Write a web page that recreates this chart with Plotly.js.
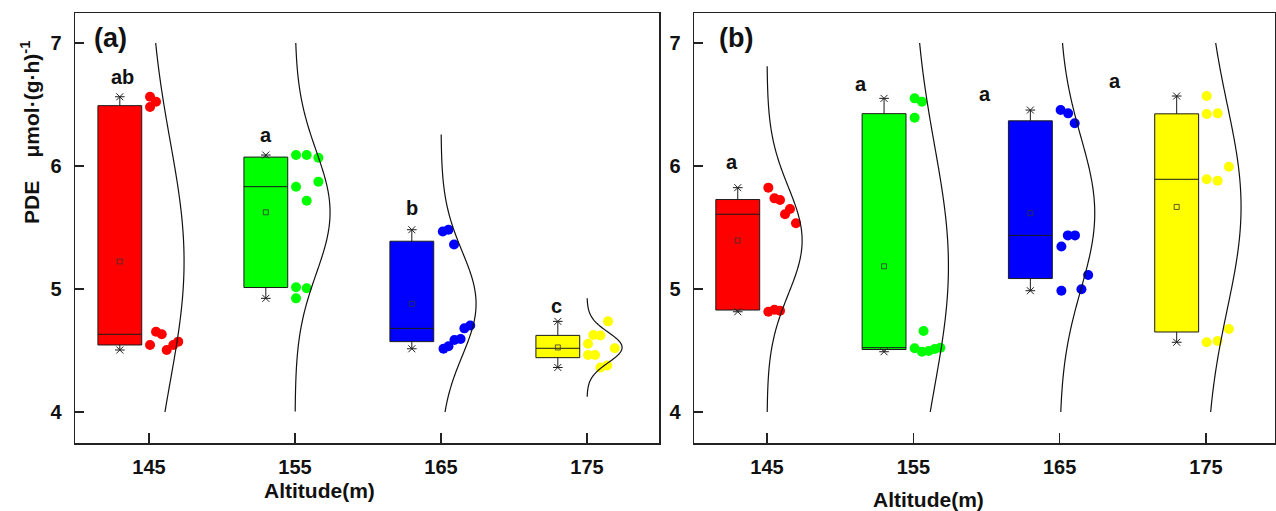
<!DOCTYPE html>
<html>
<head>
<meta charset="utf-8">
<script src="https://cdn.plot.ly/plotly-3.0.1.min.js"></script>
<style>html,body{margin:0;padding:0;background:#fff;}#chart{width:1276px;height:511px;}</style>
</head>
<body>
<div id="chart"></div>
<script>
// ---------- data ----------
const categories = [145, 155, 165, 175];
const tickLabels = ['145', '155', '165', '175'];
const groupColors = ['#FF0000', '#00FF00', '#0000FF', '#FFFF00'];

// Panel (a) PDE values per altitude
const pdeA145 = [6.563, 6.523, 6.480, 4.653, 4.632, 4.545, 4.504, 4.545, 4.572];
const pdeA155 = [6.089, 6.089, 6.067, 5.832, 5.873, 5.718, 5.014, 5.006, 4.924];
const pdeA165 = [5.468, 5.482, 5.362, 4.680, 4.703, 4.585, 4.593, 4.514, 4.534];
const pdeA175 = [4.737, 4.626, 4.622, 4.555, 4.518, 4.463, 4.463, 4.362, 4.378];
// Panel (b) PDE values per altitude
const pdeB145 = [5.824, 5.737, 5.724, 5.650, 5.608, 5.534, 4.815, 4.831, 4.823];
const pdeB155 = [6.550, 6.523, 6.393, 4.659, 4.518, 4.490, 4.496, 4.512, 4.523];
const pdeB165 = [6.455, 6.428, 6.347, 5.436, 5.436, 5.346, 5.114, 4.986, 4.998];
const pdeB175 = [6.569, 6.423, 6.428, 5.994, 5.892, 5.881, 4.675, 4.567, 4.577];

// horizontal jitter of each data point (x units right of the category)
const jitA145 = [0.07, 0.48, 0.07, 0.48, 0.87, 0.07, 1.21, 1.66, 2.00];
const jitA155 = [0.07, 0.80, 1.60, 0.07, 1.60, 0.80, 0.07, 0.80, 0.07];
const jitA165 = [0.12, 0.51, 0.89, 1.60, 2.00, 0.92, 1.34, 0.17, 0.51];
const jitA175 = [1.44, 0.43, 0.92, 0.07, 1.90, 0.07, 0.55, 0.92, 1.38];
const jitB145 = [0.09, 0.51, 0.89, 1.57, 1.23, 1.98, 0.09, 0.51, 0.89];
const jitB155 = [0.09, 0.59, 0.09, 0.70, 0.09, 0.59, 1.05, 1.46, 1.85];
const jitB165 = [0.07, 0.58, 1.03, 0.56, 1.05, 0.12, 1.95, 0.12, 1.49];
const jitB175 = [0.05, 0.05, 0.80, 1.57, 0.05, 0.80, 1.57, 0.05, 0.80];

// significance letters and where they sit (x, baseline y)
const lettersA = ['ab', 'a', 'b', 'c'];
const lettersAX = [143.2, 153.0, 163.0, 172.9];
const lettersAY = [6.66, 6.19, 5.59, 4.80];
const lettersB = ['a', 'a', 'a', 'a'];
const lettersBX = [142.6, 151.4, 159.9, 168.8];
const lettersBY = [5.97, 6.60, 6.52, 6.63];

// ---------- build ----------
const FONT = 'Liberation Sans, Arial, Helvetica, sans-serif';
const BOX_SHIFT = -2;     // boxes sit left of the category tick
const BOX_W = 3;
const CURVE_AMP = 2.4;    // width of the fitted normal curve
const panels = [
  {vals: [pdeA145, pdeA155, pdeA165, pdeA175], jit: [jitA145, jitA155, jitA165, jitA175], xa: 'x', ya: 'y'},
  {vals: [pdeB145, pdeB155, pdeB165, pdeB175], jit: [jitB145, jitB155, jitB165, jitB175], xa: 'x2', ya: 'y2'}
];

function mean(a) { return a.reduce((s, v) => s + v, 0) / a.length; }
function sd(a) { const m = mean(a); return Math.sqrt(a.reduce((s, v) => s + (v - m) * (v - m), 0) / (a.length - 1)); }

const traces = [];
panels.forEach(p => {
  p.vals.forEach((vals, i) => {
    const cat = categories[i];
    const bx = cat + BOX_SHIFT;
    // box
    traces.push({
      type: 'box', x: vals.map(() => bx), y: vals, width: BOX_W,
      xaxis: p.xa, yaxis: p.ya,
      fillcolor: groupColors[i], line: {color: '#1a1a1a', width: 1},
      whiskerwidth: 0.22, boxpoints: false, quartilemethod: 'linear',
      hoverinfo: 'skip'
    });
    // min / max markers
    traces.push({
      type: 'scatter', mode: 'markers', xaxis: p.xa, yaxis: p.ya,
      x: [bx, bx], y: [Math.min(...vals), Math.max(...vals)],
      marker: {symbol: 'x-thin-open', size: 7, color: '#222', line: {color: '#222', width: 1}},
      hoverinfo: 'skip'
    });
    // mean marker
    traces.push({
      type: 'scatter', mode: 'markers', xaxis: p.xa, yaxis: p.ya,
      x: [bx], y: [mean(vals)],
      marker: {symbol: 'square-open', size: 5, color: '#333', line: {color: '#333', width: 0.8}},
      hoverinfo: 'skip'
    });
    // data points
    traces.push({
      type: 'scatter', mode: 'markers', xaxis: p.xa, yaxis: p.ya,
      x: p.jit[i].map(j => cat + j), y: vals,
      marker: {size: 10, color: groupColors[i], line: {width: 0}},
      hoverinfo: 'skip'
    });
    // normal distribution curve from the group's mean and sd
    const m = mean(vals), s = sd(vals);
    const lo = Math.max(4, m - 3.25 * s), hi = Math.min(7, m + 3.25 * s);
    const cy = [], cx = [];
    for (let k = 0; k <= 150; k++) {
      const yv = lo + (hi - lo) * k / 150;
      cy.push(yv);
      cx.push(cat + CURVE_AMP * Math.exp(-((yv - m) * (yv - m)) / (2 * s * s)));
    }
    traces.push({
      type: 'scatter', mode: 'lines', xaxis: p.xa, yaxis: p.ya,
      x: cx, y: cy, line: {color: '#111', width: 1.2, shape: 'spline'},
      hoverinfo: 'skip'
    });
  });
});

const W = 1276, H = 511;
const yDom = [(H - 443) / H, (H - 13) / H];
const tickFont = {family: FONT, size: 20, color: '#111', weight: 'bold'};
function xAxis(dom, range, anchor) {
  return {
    domain: dom, range: range, anchor: anchor,
    tickmode: 'array', tickvals: categories, ticktext: tickLabels,
    ticks: 'inside', ticklen: 10, tickwidth: 1.5, tickcolor: '#222',
    showline: true, mirror: true, linecolor: '#222', linewidth: 1.5,
    showgrid: false, zeroline: false, tickfont: tickFont, ticklabelstandoff: 5
  };
}
function yAxis(anchor) {
  return {
    domain: yDom, range: [3.748, 7.244], anchor: anchor,
    tickmode: 'array', tickvals: [4, 5, 6, 7],
    ticks: 'inside', ticklen: 9, tickwidth: 1.5, tickcolor: '#222',
    showline: true, mirror: true, linecolor: '#222', linewidth: 1.5,
    showgrid: false, zeroline: false, tickfont: tickFont, ticklabelstandoff: 8
  };
}

const annotations = [];
lettersA.forEach((t, i) => annotations.push({
  xref: 'x', yref: 'y', x: lettersAX[i], y: lettersAY[i], text: '<b>' + t + '</b>',
  showarrow: false, xanchor: 'center', yanchor: 'bottom', yshift: -5,
  font: {family: FONT, size: 20, color: '#111'}
}));
lettersB.forEach((t, i) => annotations.push({
  xref: 'x2', yref: 'y2', x: lettersBX[i], y: lettersBY[i], text: '<b>' + t + '</b>',
  showarrow: false, xanchor: 'center', yanchor: 'bottom', yshift: -5,
  font: {family: FONT, size: 20, color: '#111'}
}));
annotations.push(
  {xref: 'paper', yref: 'paper', x: 92 / W, y: 1 - 38 / H, text: '<b>(a)</b>', showarrow: false,
   xanchor: 'left', yanchor: 'middle', font: {family: FONT, size: 27, color: '#111'}},
  {xref: 'paper', yref: 'paper', x: 717 / W, y: 1 - 38 / H, text: '<b>(b)</b>', showarrow: false,
   xanchor: 'left', yanchor: 'middle', font: {family: FONT, size: 27, color: '#111'}},
  {xref: 'paper', yref: 'paper', x: 319 / W, y: 1 - 490 / H, text: '<b>Altitude(m)</b>', showarrow: false,
   xanchor: 'center', yanchor: 'middle', font: {family: FONT, size: 21, color: '#111'}},
  {xref: 'paper', yref: 'paper', x: 928 / W, y: 1 - 499 / H, text: '<b>Altitude(m)</b>', showarrow: false,
   xanchor: 'center', yanchor: 'middle', font: {family: FONT, size: 21, color: '#111'}},
  {xref: 'paper', yref: 'paper', x: 30 / W, y: 1 - 133 / H, text: '<b>PDE    μmol·(g·h)<sup>-1</sup></b>', showarrow: false,
   textangle: -90, xanchor: 'center', yanchor: 'middle', font: {family: FONT, size: 21, color: '#111'}}
);

const layout = {
  width: W, height: H,
  margin: {l: 0, r: 0, t: 0, b: 0},
  paper_bgcolor: '#fff', plot_bgcolor: '#fff',
  showlegend: false, boxmode: 'overlay',
  xaxis: xAxis([75 / W, 659 / W], [139.93, 179.93], 'y'),
  yaxis: yAxis('x'),
  xaxis2: xAxis([694 / W, 1275 / W], [140.01, 179.72], 'y2'),
  yaxis2: yAxis('x2'),
  annotations: annotations
};

Plotly.newPlot('chart', traces, layout, {displayModeBar: false, staticPlot: true});
</script>
</body>
</html>
